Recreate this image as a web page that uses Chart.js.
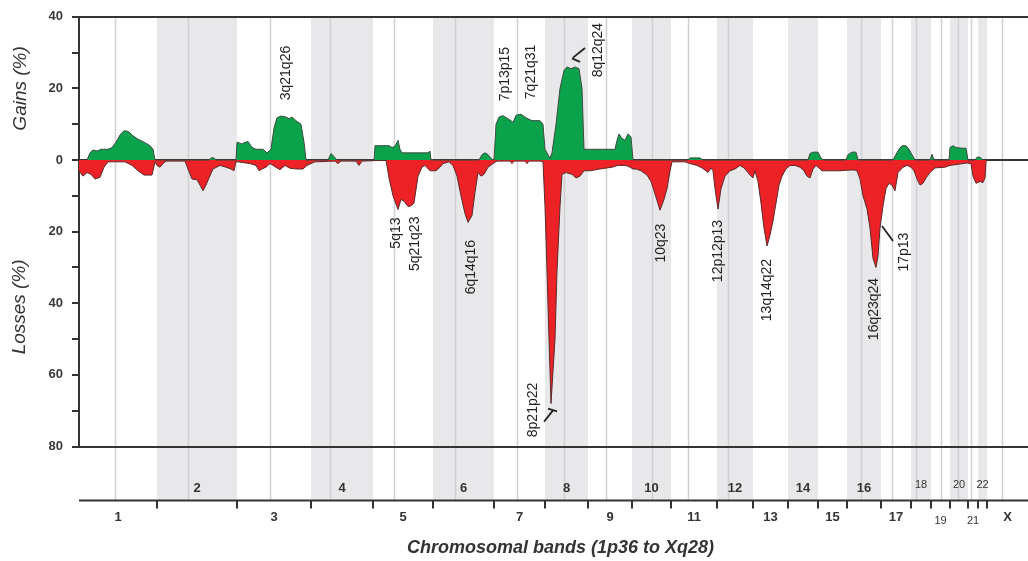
<!DOCTYPE html>
<html>
<head>
<meta charset="utf-8">
<script src="https://cdn.jsdelivr.net/npm/chart.js@4/dist/chart.umd.min.js"></script>
<style>
html,body{margin:0;padding:0;background:#ffffff;}
#wrap{width:1028px;height:561px;position:relative;}
</style>
</head>
<body>
<div id="wrap"><canvas id="c" width="1028" height="561"></canvas></div>
<script>
// ---------- DATA ----------
const chromosomes = ['1','2','3','4','5','6','7','8','9','10','11','12','13','14','15','16','17','18','19','20','21','22','X'];
// relative chromosome lengths (genome units along the x axis)
const chromLengths = [78,80,74,62,60,61,51,43,44,39,46,36,35,30,29,34,30,20,19,18,10,9,41];
// centromere offset inside each chromosome (null = not drawn)
const centromeres = [36,31,33,19,21,22,23,19,18,20,17,11,null,null,null,14,11,5,10,8,3,null,15];

// gains (%): [genome position, value]
const gains = [
  [8,0],[11,2],[14,2.8],[18,2.5],[22,3],[29,3],[33,3.5],[37,5],[41,7],[45,8.2],[49,8],[54,6.8],[59,5.8],[65,5],[71,4],[74,3],[76,0],
  [130,0],[132,0.6],[135,0.6],[137,0],
  [157,0],[158,5],[163,4.5],[165,4.8],[169,5.2],[173,3.5],[177,3],[184,3],[188,2],[192,3],[195,9],[198,11.8],[202,12.3],[207,12],[210,11.5],[213,12],[217,11],[222,10],[225,5],[227,0],
  [249,0],[252,1.8],[255,1],[258,0],
  [295,0],[296,4],[310,4],[313,3.5],[316,3.8],[319,5.5],[321,3],[323,2],[349,2],[351,2.5],[352,0],
  [400,0],[403,1.5],[406,2],[409,1.5],[412,0.5],[414,0],
  [415,0],[417,10],[420,12],[424,12.4],[429,11.5],[432,11],[434,10.5],[437,12.5],[442,12.8],[446,12],[449,11.5],[453,11],[461,11],[464,10],[466,3],[469,1.5],[471,0.5],
  [473,2],[477,10],[481,20],[485,25],[488,26],[492,25.5],[496,26],[500,25.5],[503,20],[505,3],[536,3],[538,5.5],[540,7.3],[543,6],[546,5.5],[549,7.3],[552,6.5],[554,0],
  [609,0],[611,0.6],[621,0.6],[624,0],
  [729,0],[731,1.8],[734,2.2],[739,2.2],[742,0.5],[745,0],
  [767,0],[769,1.5],[773,2.2],[777,2.2],[779,0],
  [814,0],[817,1.6],[820,3],[823,4],[827,4],[830,3],[833,1.5],[836,0],
  [851,0],[853,1.6],[855,0],
  [870,0],[871,3.5],[874,4],[877,3.5],[883,3.3],[887,3.3],[889,0],
  [896,0],[898,0.8],[901,0.8],[904,0]
];

// losses (%): [genome position, value]
const losses = [
  [0,3],[4,4.5],[8,3.5],[12,4],[16,5.3],[21,4.8],[25,2],[29,0.5],[46,0.5],[53,1.5],[59,3],[65,4.2],[73,4.2],[76,0.5],
  [78,1.5],[81,2],[84,1],[87,0.3],[106,0.3],[109,2.5],[113,5.3],[118,5.5],[121,7],[124,8.6],[127,7],[130,5],[134,2.5],[141,1.5],[147,2],[152,2.5],[155,3],[157,0.5],
  [159,0.5],[171,1],[177,1.5],[180,3],[183,2.5],[187,2],[191,1],[194,1.5],[198,2.2],[201,2.7],[206,1.5],[211,2.3],[218,2.5],[224,2.5],[228,1.5],[232,1],
  [236,0.5],[256,0.3],[259,1],[262,0.3],[277,0.3],[280,1.5],[283,0.3],[293,0.2],
  [307,0],[310,5],[314,10],[319,13.8],[322,11],[325,11.5],[329,13],[332,12.8],[335,12],[339,4.5],[343,2],[346,1.5],[351,3],[357,3],[361,2],[364,1],
  [370,0.5],[374,1.5],[378,4.5],[382,10],[386,15],[389,17.4],[393,15.5],[396,9],[399,3.5],[402,4.5],[405,4],[409,2],[414,1],
  [418,0.3],[431,0.3],[433,1],[435,0.3],[446,0.3],[448,1],[450,0.3],[461,0.3],[464,0.5],
  [466,13],[468,31],[470,50],[472,68],[474,59],[476,50],[478,31],[481,13],[483,4],[487,3.5],[493,4],[497,5],[501,4.5],[505,3],[511,3],[521,2.5],[533,2],[539,1.5],[547,1.5],[551,2],[554,2.5],
  [557,2.5],[562,3],[568,4.2],[572,6],[576,9.5],[581,14],[585,11],[588,8],[591,3],[593,0.5],
  [596,0.5],[606,0.5],[611,1],[618,1.5],[623,2.2],[627,3],[629,3.5],[632,2.2],[634,3],[636,8],[639,13.7],[642,8],[646,4.5],[651,3],[656,2.5],[661,1.5],[665,2.2],[669,3.5],[672,4.5],[674,5],
  [676,3],[679,6],[682,12],[685,19],[688,24],[691,21],[694,17],[697,12],[700,7],[703,4.5],[707,2.5],[711,1.5],[716,1.5],[721,2],[725,3],[728,4.5],[731,5],[734,2.5],[737,1.5],[739,2],[743,3],[751,3],[761,3],[771,2.8],[776,2.8],[778,3],
  [781,5.3],[784,10],[788,13.7],[791,19],[794,27.5],[797,30],[799,26.8],[801,19],[804,12.8],[807,8],[810,6.5],[813,7],[816,8.6],[819,3.5],[824,2],[828,1.5],[832,2],[835,3],[838,5.3],[841,7],[844,6.5],[847,5],[851,3.5],[856,2.2],[866,2],[871,1.5],[879,1.2],[888,0.8],[892,1],[894,4.5],[897,6.5],[901,6],[904,6.3],[906,5],[907,0.5],[908,0]
];

const yTickValues = [40,20,0,-20,-40,-60,-80];

// band annotations: text, genome position, value (%), signed (losses negative)
const gainLabels = [
  {text:'3q21q26', x:207, y:24.3},
  {text:'7p13p15', x:426, y:24},
  {text:'7q21q31', x:452, y:24.6},
  {text:'8q12q24', x:519, y:30.7}
];
const lossLabels = [
  {text:'5q13', x:317, y:-20.4},
  {text:'5q21q23', x:336, y:-23.4},
  {text:'6q14q16', x:392, y:-29.9},
  {text:'8p21p22', x:454, y:-69.8},
  {text:'10q23', x:582, y:-23.2},
  {text:'12p12p13', x:639, y:-25.4},
  {text:'13q14q22', x:688, y:-36.3},
  {text:'16q23q24', x:795, y:-41.6},
  {text:'17p13', x:825, y:-25.7}
];
// leader marks next to labels: [x1,y1,x2,y2] in data units
const leaders = [
  [506,31.3,494,28.6],[493,28.4,501,27.4],
  [465,-73.1,474,-69.9],[469,-69.4,478,-70.2],
  [803,-18.4,814,-22.6]
];

// ---------- CHART ----------
const starts = [];
chromLengths.reduce((acc, l) => { starts.push(acc); return acc + l; }, 0);
const genomeEnd = starts[starts.length - 1] + chromLengths[chromLengths.length - 1];

const FONT = '"Liberation Sans", Arial, Helvetica, sans-serif';
const BAND = '#e8e8eb';
const CENT = '#cfd0d4';
const DARK = '#333333';

const decoPlugin = {
  id: 'deco',
  beforeDraw(chart) {
    const {ctx, chartArea, scales} = chart;
    const x = scales.x;
    const axisY = chartArea.bottom + 54;
    ctx.save();
    ctx.fillStyle = BAND;
    starts.forEach((s, i) => {
      if (i % 2 === 1) {
        const x0 = x.getPixelForValue(s), x1 = x.getPixelForValue(s + chromLengths[i]);
        ctx.fillRect(x0, chartArea.top + 1, x1 - x0, axisY - chartArea.top - 1);
      }
    });
    ctx.strokeStyle = CENT;
    ctx.lineWidth = 1.5;
    centromeres.forEach((c, i) => {
      if (c === null) return;
      const px = Math.round(x.getPixelForValue(starts[i] + c)) + 0.5;
      ctx.beginPath();
      ctx.moveTo(px, chartArea.top + 1);
      ctx.lineTo(px, axisY);
      ctx.stroke();
    });
    ctx.restore();
  },
  afterDraw(chart) {
    const {ctx, chartArea, scales} = chart;
    const x = scales.x, y = scales.y;
    const axisY = chartArea.bottom + 54;
    ctx.save();
    // bottom chromosome axis
    ctx.strokeStyle = DARK;
    ctx.lineWidth = 2;
    ctx.beginPath();
    ctx.moveTo(chartArea.left, axisY);
    ctx.lineTo(chartArea.right, axisY);
    ctx.stroke();
    for (let i = 1; i < starts.length; i++) {
      const px = Math.round(x.getPixelForValue(starts[i]));
      ctx.beginPath();
      ctx.moveTo(px, axisY);
      ctx.lineTo(px, axisY + 8);
      ctx.stroke();
    }
    // chromosome labels
    ctx.fillStyle = DARK;
    ctx.textAlign = 'center';
    ctx.textBaseline = 'middle';
    chromosomes.forEach((name, i) => {
      const cx = x.getPixelForValue(starts[i] + chromLengths[i] / 2);
      const upper = (i % 2 === 1);
      const small = i >= 17 && i <= 21;
      ctx.font = small ? ('11px ' + FONT) : ('bold 13px ' + FONT);
      const cy = upper ? (small ? axisY - 16 : axisY - 12) : (small ? axisY + 20 : axisY + 17);
      ctx.fillText(name, cx, cy);
    });
    // x title
    ctx.font = 'bold italic 18px ' + FONT;
    ctx.fillText('Chromosomal bands (1p36 to Xq28)', (chartArea.left + chartArea.right) / 2 + 7, axisY + 48);
    // y titles
    ctx.font = 'italic 19px ' + FONT;
    ctx.save();
    ctx.translate(21, y.getPixelForValue(20));
    ctx.rotate(-Math.PI / 2);
    ctx.fillText('Gains (%)', 0, 0);
    ctx.restore();
    ctx.save();
    ctx.translate(20, y.getPixelForValue(-41));
    ctx.rotate(-Math.PI / 2);
    ctx.fillText('Losses (%)', 0, 0);
    ctx.restore();
    // annotations
    ctx.font = '14px ' + FONT;
    ctx.fillStyle = '#222222';
    gainLabels.concat(lossLabels).forEach(a => {
      ctx.save();
      ctx.translate(x.getPixelForValue(a.x), y.getPixelForValue(a.y));
      ctx.rotate(-Math.PI / 2);
      ctx.fillText(a.text, 0, 0);
      ctx.restore();
    });
    ctx.strokeStyle = '#222222';
    ctx.lineWidth = 1.8;
    leaders.forEach(l => {
      ctx.beginPath();
      ctx.moveTo(x.getPixelForValue(l[0]), y.getPixelForValue(l[1]));
      ctx.lineTo(x.getPixelForValue(l[2]), y.getPixelForValue(l[3]));
      ctx.stroke();
    });
    ctx.restore();
  }
};

new Chart(document.getElementById('c'), {
  type: 'line',
  data: {
    datasets: [
      {
        label: 'Gains (%)',
        data: gains.map(p => ({x: p[0], y: p[1]})),
        fill: 'origin',
        backgroundColor: '#0ba24c',
        borderColor: '#3d4a3f',
        borderWidth: 1,
        pointRadius: 0,
        tension: 0
      },
      {
        label: 'Losses (%)',
        data: losses.map(p => ({x: p[0], y: -p[1]})),
        fill: 'origin',
        backgroundColor: '#ec2227',
        borderColor: '#5a2a2a',
        borderWidth: 1,
        pointRadius: 0,
        tension: 0
      }
    ]
  },
  options: {
    responsive: false,
    animation: false,
    devicePixelRatio: 1,
    layout: {padding: {top: 16, left: 0, right: 0, bottom: 114.5}},
    plugins: {legend: {display: false}, tooltip: {enabled: false}},
    scales: {
      x: {type: 'linear', min: 0, max: genomeEnd, display: false},
      y: {
        type: 'linear', min: -80, max: 40, z: 1,
        afterFit: (s) => { s.width = 79; },
        afterBuildTicks: (s) => {
          const t = [];
          for (let v = 40; v >= -80; v -= 10) t.push({value: v});
          s.ticks = t;
        },
        ticks: {
          callback: (v) => yTickValues.includes(v) ? String(Math.abs(v)) : '',
          font: {family: FONT, size: 13, weight: 'bold'},
          color: '#3a3a3a',
          padding: 9,
          autoSkip: false
        },
        grid: {
          drawOnChartArea: true,
          color: (c) => (c.tick && (c.tick.value === 40 || c.tick.value === 0 || c.tick.value === -80)) ? DARK : 'rgba(0,0,0,0)',
          lineWidth: 2,
          tickColor: DARK,
          tickLength: 7,
          tickWidth: 2
        },
        border: {display: true, color: DARK, width: 2}
      }
    }
  },
  plugins: [decoPlugin]
});
</script>
</body>
</html>
